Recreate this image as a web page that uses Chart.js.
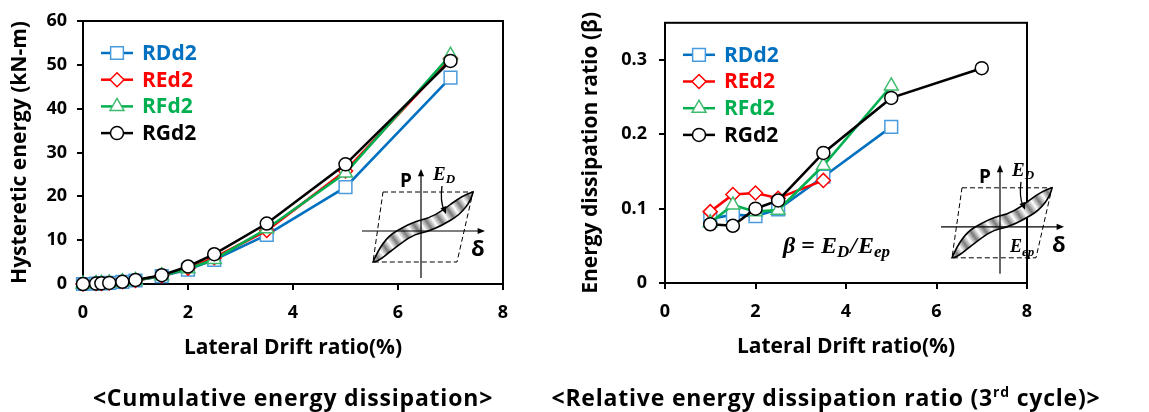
<!DOCTYPE html>
<html>
<head>
<meta charset="utf-8">
<script src="https://cdn.jsdelivr.net/npm/chart.js@4.4.0/dist/chart.umd.min.js"></script>
<style>
  body { margin: 0; background: #fff; width: 1149px; height: 412px; position: relative; overflow: hidden; font-family: "Open Sans", sans-serif; }
  #leftBox { position: absolute; left: 0; top: 0; width: 560px; height: 412px; }
  #rightBox { position: absolute; left: 560px; top: 0; width: 589px; height: 412px; }
  .caption { position: absolute; top: 382px; font-weight: bold; font-size: 23px; letter-spacing: 0.8px; line-height: 30px; white-space: nowrap; transform: translateX(-50%); color: #000; }
  .caption sup { font-size: 14px; line-height: 0; }
</style>
</head>
<body>
<div id="leftBox"><canvas id="energyChart" width="560" height="412"></canvas></div>
<div id="rightBox"><canvas id="ratioChart" width="589" height="412"></canvas></div>
<div class="caption" style="left:293px">&lt;Cumulative energy dissipation&gt;</div>
<div class="caption" style="left:826px">&lt;Relative energy dissipation ratio (3<sup>rd</sup> cycle)&gt;</div>

<script>
// Data
const seriesNames = ["RDd2", "REd2", "RFd2", "RGd2"];

// left: cumulative hysteretic energy (kN-m)
const driftL = [0, 0.25, 0.35, 0.5, 0.75, 1, 1.5, 2, 2.5, 3.5, 5, 7];
const rdEnergy = [0, 0.1, 0.15, 0.25, 0.5, 0.8, 1.8, 3.3, 5.5, 11.2, 22.1, 47.1];
const reEnergy = [0, 0.1, 0.15, 0.25, 0.5, 0.8, 1.9, 3.6, 6.0, 12.2, 25.8, 51.5];
const rfEnergy = [0, 0.1, 0.15, 0.25, 0.5, 0.8, 1.9, 3.5, 5.6, 12.6, 25.3, 52.2];
const rgEnergy = [0, 0.1, 0.15, 0.25, 0.5, 0.9, 2.0, 4.0, 6.8, 13.8, 27.3, 50.9];

// right: energy dissipation ratio beta (3rd cycle)
const driftR = [1, 1.5, 2, 2.5, 3.5, 5, 7];
const rdBeta = [0.086, 0.092, 0.090, 0.099, 0.143, 0.210];
const reBeta = [0.096, 0.119, 0.121, 0.114, 0.138];
const rfBeta = [0.081, 0.105, 0.096, 0.098, 0.158, 0.265];
const rgBeta = [0.079, 0.077, 0.100, 0.111, 0.175, 0.249, 0.289];

const xTicks = [0, 2, 4, 6, 8];
const energyTicks = [0, 10, 20, 30, 40, 50, 60];
const betaTicks = [0, 0.1, 0.2, 0.3];

// styles
const lineColors = ["#0070C0", "#FF0000", "#00B050", "#000000"];
const markerColors = ["#4A9BDC", "#FF0000", "#3DBB6E", "#000000"];
const textColors = ["#0070C0", "#FF0000", "#00B050", "#000000"];
const markerStyles = ["rect", "rectRot", "triangle", "circle"];
const markerRadius = [9, 7, 8, 6.5];
const drawOrder = [4, 3, 2, 1];

Chart.defaults.font.family = '"Open Sans", sans-serif';
Chart.defaults.color = "#000";

function makeDatasets(xs, valueLists) {
  return seriesNames.map((name, i) => ({
    label: name,
    data: valueLists[i].map((v, j) => ({ x: xs[j], y: v })),
    borderColor: lineColors[i],
    borderWidth: 2.6,
    pointStyle: markerStyles[i],
    pointRadius: markerRadius[i],
    pointBorderColor: markerColors[i],
    pointBackgroundColor: "#fff",
    pointBorderWidth: 1.5,
    tension: 0,
    order: drawOrder[i],
    clip: false
  }));
}

function makeScales(yMax, yTicks, yTitle, yWidth, yTitlePad, yTickPad, fmt) {
  return {
    x: {
      type: "linear", min: 0, max: 8,
      afterBuildTicks: (a) => { a.ticks = xTicks.map(v => ({ value: v })); },
      afterFit: (s) => { s.height = 80; },
      grid: { drawOnChartArea: false, drawTicks: true, tickLength: 6, color: "#000", lineWidth: 2 },
      border: { display: false },
      ticks: { font: { size: 18, weight: "bold" }, padding: 12, color: "#000" },
      title: { display: true, text: "Lateral Drift ratio(%)", font: { size: 21, weight: "bold" }, color: "#000", padding: { top: 0, bottom: 3 } }
    },
    y: {
      type: "linear", min: 0, max: yMax,
      afterBuildTicks: (a) => { a.ticks = yTicks.map(v => ({ value: v })); },
      afterFit: (s) => { s.width = yWidth; },
      grid: { drawOnChartArea: false, drawTicks: true, tickLength: 6, color: "#000", lineWidth: 2 },
      border: { display: false },
      ticks: { font: { size: 18, weight: "bold" }, padding: yTickPad, color: "#000", callback: fmt },
      title: { display: true, text: yTitle, font: { size: 21, weight: "bold" }, color: "#000", padding: { top: yTitlePad, bottom: 0 } }
    }
  };
}

// frame around plot area
const framePlugin = {
  id: "frame",
  beforeDatasetsDraw(chart) {
    const { ctx, chartArea: a } = chart;
    ctx.save();
    ctx.strokeStyle = "#000";
    ctx.lineWidth = 2;
    ctx.strokeRect(a.left, a.top, a.right - a.left, a.bottom - a.top);
    ctx.restore();
  }
};

// legend: line with marker, coloured bold label
const legendPlugin = {
  id: "lineLegend",
  afterDraw(chart) {
    const { ctx, chartArea: a } = chart;
    ctx.save();
    chart.data.datasets.forEach((ds, i) => {
      const y = a.top + 32 + i * 26.7;
      const x0 = a.left + 18;
      ctx.strokeStyle = ds.borderColor;
      ctx.lineWidth = 2.5;
      ctx.beginPath();
      ctx.moveTo(x0, y);
      ctx.lineTo(x0 + 32, y);
      ctx.stroke();
      ctx.fillStyle = "#fff";
      ctx.strokeStyle = ds.pointBorderColor;
      ctx.lineWidth = 1.5;
      Chart.helpers.drawPoint(ctx, { pointStyle: ds.pointStyle, radius: ds.pointRadius, rotation: 0, borderWidth: 1.5 }, x0 + 16, y);
      ctx.fillStyle = textColors[i];
      ctx.font = 'bold 21px "Open Sans", sans-serif';
      ctx.textBaseline = "middle";
      ctx.textAlign = "left";
      ctx.fillText(ds.label, a.left + 59, y + 1);
    });
    ctx.restore();
  }
};

function arrowHead(ctx, x, y, ang, size) {
  ctx.beginPath();
  ctx.moveTo(x, y);
  ctx.lineTo(x - size * Math.cos(ang - 0.4), y - size * Math.sin(ang - 0.4));
  ctx.lineTo(x - size * Math.cos(ang + 0.4), y - size * Math.sin(ang + 0.4));
  ctx.closePath();
  ctx.fill();
}

function drawSub(ctx, x, y, main, sub, size) {
  ctx.font = 'italic bold ' + size + 'px "Liberation Serif", serif';
  ctx.fillText(main, x, y);
  const w = ctx.measureText(main).width;
  ctx.font = 'italic bold ' + Math.round(size * 0.7) + 'px "Liberation Serif", serif';
  ctx.fillText(sub, x + w, y + size * 0.25);
  return w + ctx.measureText(sub).width;
}

// hysteresis sketch
function drawInset(ctx, ox, oy, withEep) {
  ctx.save();
  ctx.translate(ox, oy);
  // dashed envelope
  ctx.setLineDash([5, 3]);
  ctx.lineWidth = 1;
  ctx.strokeStyle = "#000";
  ctx.beginPath();
  ctx.moveTo(-38, -39); ctx.lineTo(52, -39); ctx.lineTo(36, 31); ctx.lineTo(-48, 31); ctx.closePath();
  ctx.stroke();
  ctx.setLineDash([]);
  // loop
  ctx.beginPath();
  ctx.moveTo(-48, 31);
  ctx.bezierCurveTo(-42, 17, -36, 7, -26, 1);
  ctx.bezierCurveTo(-16, -5, -8, -9, 0, -11);
  ctx.bezierCurveTo(10, -13, 20, -19, 30, -27);
  ctx.bezierCurveTo(38, -33, 45, -37, 52, -39);
  ctx.bezierCurveTo(50, -29, 42, -18, 30, -11);
  ctx.bezierCurveTo(20, -5, 10, 0, 0, 2);
  ctx.bezierCurveTo(-10, 4, -18, 11, -30, 20);
  ctx.bezierCurveTo(-38, 26, -42, 31, -48, 31);
  ctx.closePath();
  const g = ctx.createLinearGradient(-48, 31, 52, -39);
  const n = 20;
  for (let k = 0; k <= n; k++) g.addColorStop(k / n, k % 2 ? "#7a7a7a" : "#ffffff");
  ctx.fillStyle = g;
  ctx.fill();
  ctx.lineWidth = 1.6;
  ctx.stroke();
  // axes
  ctx.lineWidth = 1.2;
  ctx.fillStyle = "#000";
  ctx.beginPath(); ctx.moveTo(0, 47); ctx.lineTo(0, -58); ctx.stroke();
  arrowHead(ctx, 0, -62, -Math.PI / 2, 8);
  ctx.beginPath(); ctx.moveTo(-59, 0); ctx.lineTo(60, 0); ctx.stroke();
  arrowHead(ctx, 64, 0, 0, 8);
  // E_D pointer
  ctx.lineWidth = 1.3;
  ctx.beginPath(); ctx.moveTo(21, -45); ctx.quadraticCurveTo(19, -30, 23, -21); ctx.stroke();
  arrowHead(ctx, 25, -17, 1.2, 8);
  // labels
  ctx.textBaseline = "middle";
  ctx.textAlign = "left";
  ctx.font = 'bold 19px "Open Sans", sans-serif';
  ctx.fillText("P", -21, -49);
  ctx.font = 'bold 22px "Open Sans", sans-serif';
  ctx.fillText("\u03b4", withEep ? 52 : 50, 19);
  drawSub(ctx, 12, -56, "E", "D", 19);
  if (withEep) drawSub(ctx, 10, 21, "E", "ep", 18);
  ctx.restore();
}

const energyInset = {
  id: "energyInset",
  afterDraw(chart) {
    const a = chart.chartArea;
    drawInset(chart.ctx, a.left + 338, a.top + 210, false);
  }
};

const ratioInset = {
  id: "ratioInset",
  afterDraw(chart) {
    const { ctx, chartArea: a } = chart;
    drawInset(ctx, a.left + 335, a.top + 204, true);
    // beta = E_D / E_ep
    ctx.save();
    ctx.fillStyle = "#000";
    ctx.textBaseline = "middle";
    ctx.textAlign = "left";
    let x = a.left + 118;
    const y = a.top + 224;
    ctx.font = 'italic bold 24px "Liberation Serif", serif';
    ctx.fillText("\u03b2", x, y);
    x += ctx.measureText("\u03b2").width + 6;
    ctx.font = 'bold 24px "Liberation Serif", serif';
    ctx.fillText("=", x, y);
    x += ctx.measureText("=").width + 6;
    x += drawSub(ctx, x, y, "E", "D", 24);
    ctx.font = 'italic bold 24px "Liberation Serif", serif';
    ctx.fillText("/", x + 1, y);
    x += ctx.measureText("/").width + 2;
    drawSub(ctx, x, y, "E", "ep", 24);
    ctx.restore();
  }
};

new Chart(document.getElementById("energyChart"), {
  type: "line",
  data: { datasets: makeDatasets(driftL, [rdEnergy, reEnergy, rfEnergy, rgEnergy]) },
  options: {
    responsive: false,
    animation: false,
    layout: { padding: { top: 21, right: 57, left: 0, bottom: 48 } },
    plugins: { legend: { display: false }, tooltip: { enabled: false } },
    scales: makeScales(60, energyTicks, "Hysteretic energy (kN-m)", 83, 7, 10, (v) => v)
  },
  plugins: [framePlugin, legendPlugin, energyInset]
});

new Chart(document.getElementById("ratioChart"), {
  type: "line",
  data: { datasets: makeDatasets(driftR, [rdBeta, reBeta, rfBeta, rgBeta]) },
  options: {
    responsive: false,
    animation: false,
    layout: { padding: { top: 19, right: 122, left: 0, bottom: 49 } },
    plugins: { legend: { display: false }, tooltip: { enabled: false } },
    scales: makeScales(0.35, betaTicks, "Energy dissipation ratio (\u03b2)", 105, 18, 12, (v) => v === 0 ? "0" : v.toFixed(1))
  },
  plugins: [framePlugin, legendPlugin, ratioInset]
});
</script>
</body>
</html>
